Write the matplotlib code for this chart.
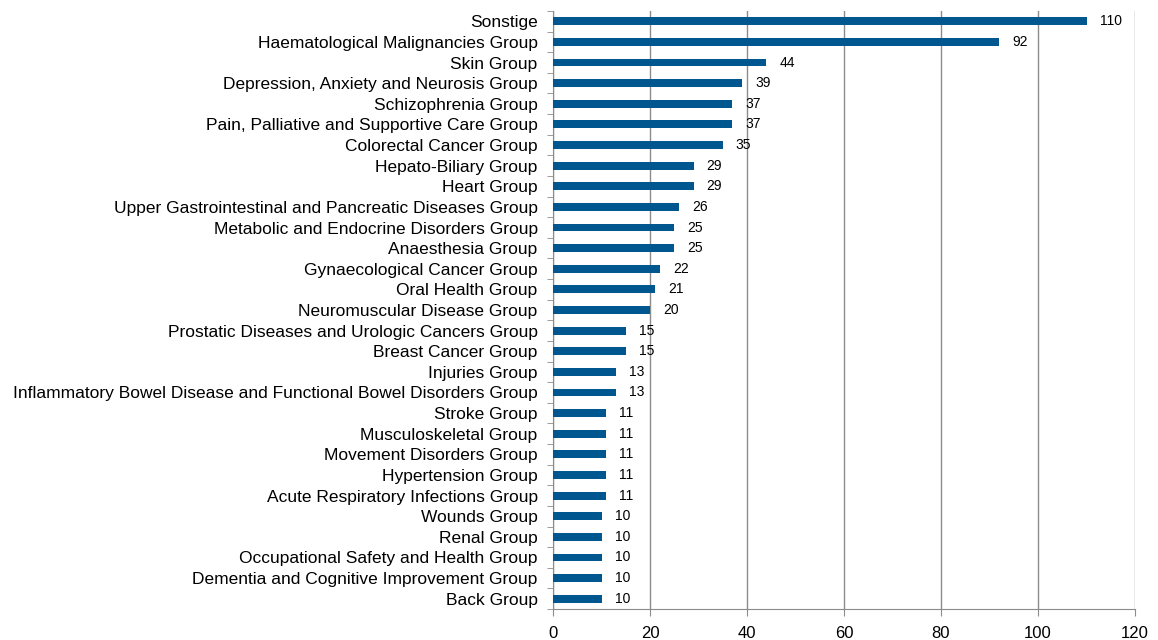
import matplotlib
matplotlib.use("Agg")
import matplotlib.pyplot as plt
import numpy as np

plt.rcParams['font.family'] = ['Liberation Sans', 'DejaVu Sans']

groups = [
    "Sonstige",
    "Haematological Malignancies Group",
    "Skin Group",
    "Depression, Anxiety and Neurosis Group",
    "Schizophrenia Group",
    "Pain, Palliative and Supportive Care Group",
    "Colorectal Cancer Group",
    "Hepato-Biliary Group",
    "Heart Group",
    "Upper Gastrointestinal and Pancreatic Diseases Group",
    "Metabolic and Endocrine Disorders Group",
    "Anaesthesia Group",
    "Gynaecological Cancer Group",
    "Oral Health Group",
    "Neuromuscular Disease Group",
    "Prostatic Diseases and Urologic Cancers Group",
    "Breast Cancer Group",
    "Injuries Group",
    "Inflammatory Bowel Disease and Functional Bowel Disorders Group",
    "Stroke Group",
    "Musculoskeletal Group",
    "Movement Disorders Group",
    "Hypertension Group",
    "Acute Respiratory Infections Group",
    "Wounds Group",
    "Renal Group",
    "Occupational Safety and Health Group",
    "Dementia and Cognitive Improvement Group",
    "Back Group",
]
counts = [110, 92, 44, 39, 37, 37, 35, 29, 29, 26, 25, 25, 22, 21, 20,
          15, 15, 13, 13, 11, 11, 11, 11, 11, 10, 10, 10, 10, 10]
xticks = [0, 20, 40, 60, 80, 100, 120]

bar_color = "#00568f"
grid_color = "#8c8c8c"

fig = plt.figure(figsize=(11.58, 6.4), dpi=100)
ax = fig.add_axes([553 / 1158, 1 - 609 / 640, (1135 - 553) / 1158, (609 - 11) / 640])

y = np.arange(len(groups))
ax.barh(y, counts, height=0.38, color=bar_color, zorder=3)
for yi, v in zip(y, counts):
    ax.text(v + 2.7, yi, str(v), va="center", ha="left", fontsize=10, color="black")

ax.set_xlim(0, 120)
ax.set_ylim(len(groups) - 0.5, -0.5)
ax.set_xticks(xticks)
ax.set_xticklabels([str(t) for t in xticks], fontsize=12)
ax.set_yticks(y)
ax.set_yticklabels(groups, fontsize=12.5)
ax.tick_params(axis="y", length=0, pad=11)
ax.set_yticks(np.arange(len(groups) + 1) - 0.5, minor=True)
ax.tick_params(axis="y", which="minor", length=4, color=grid_color, direction="out")
ax.tick_params(axis="x", length=5, color=grid_color, pad=7)

ax.grid(axis="x", color=grid_color, linewidth=1, zorder=0)
for s in ["top", "right"]:
    ax.spines[s].set_visible(False)
for s in ["left", "bottom"]:
    ax.spines[s].set_color(grid_color)

fig.savefig("out.png", dpi=100)
